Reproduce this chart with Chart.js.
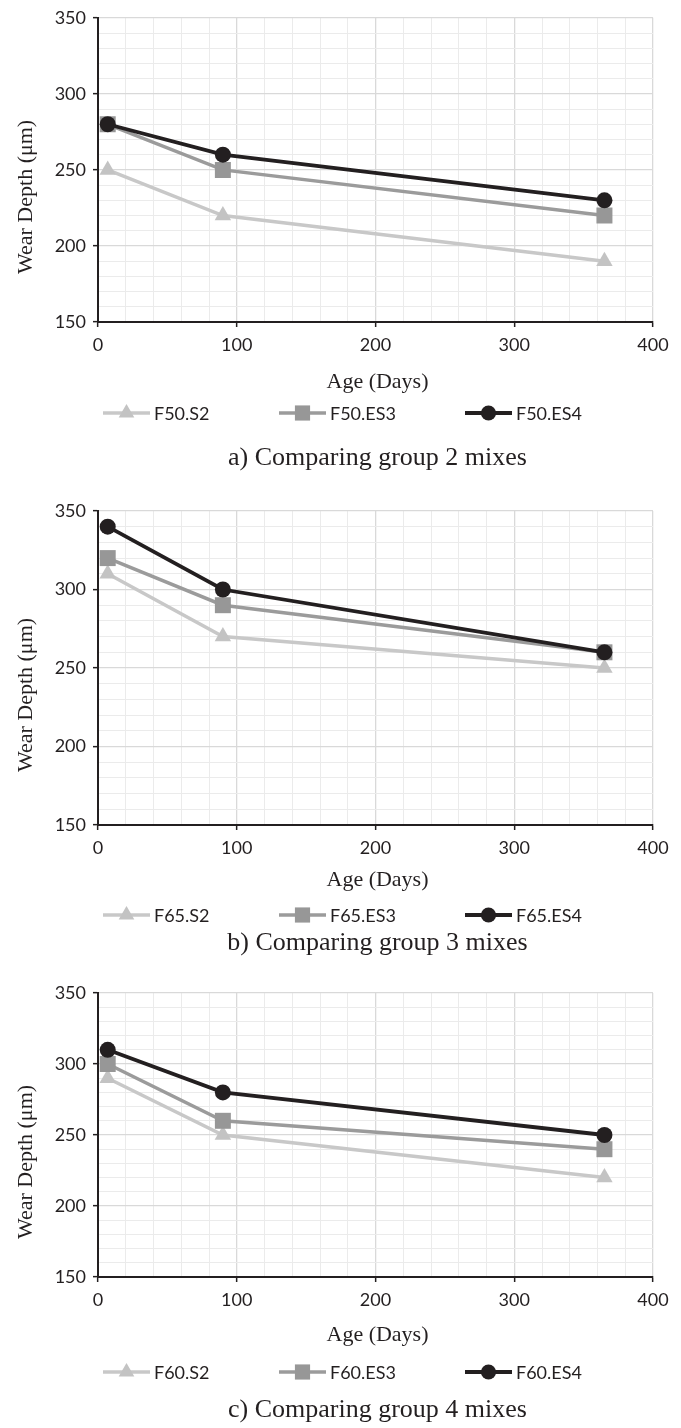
<!DOCTYPE html>
<html>
<head>
<meta charset="utf-8">
<script src="https://cdn.jsdelivr.net/npm/chart.js@4.4.1/dist/chart.umd.min.js"></script>
<style>
  html, body { margin: 0; padding: 0; background: #ffffff; }
  #figure { position: relative; width: 681px; height: 1428px; }
  #figure canvas { position: absolute; left: 0; }
</style>
</head>
<body>
<div id="figure">
  <canvas id="panelA" width="681" height="480" style="top:0px"></canvas>
  <canvas id="panelB" width="681" height="480" style="top:480px"></canvas>
  <canvas id="panelC" width="681" height="468" style="top:960px"></canvas>
</div>
<script>
// Test ages (days)
const ageDays = [7, 90, 365];

// Axis tick labels
const xTickLabels = [0, 100, 200, 300, 400];
const yTickLabels = [150, 200, 250, 300, 350];

// Group 2 mixes
const group2Names = ['F50.S2', 'F50.ES3', 'F50.ES4'];
const group2S2  = [250, 220, 190];
const group2ES3 = [280, 250, 220];
const group2ES4 = [280, 260, 230];

// Group 3 mixes
const group3Names = ['F65.S2', 'F65.ES3', 'F65.ES4'];
const group3S2  = [310, 270, 250];
const group3ES3 = [320, 290, 260];
const group3ES4 = [340, 300, 260];

// Group 4 mixes
const group4Names = ['F60.S2', 'F60.ES3', 'F60.ES4'];
const group4S2  = [290, 250, 220];
const group4ES3 = [300, 260, 240];
const group4ES4 = [310, 280, 250];

const captions = [
  'a) Comparing group 2 mixes',
  'b) Comparing group 3 mixes',
  'c) Comparing group 4 mixes'
];

const INK = '#231f20';
const SERIES_STYLE = [
  { line: '#c8c8c8', mark: '#c3c3c3', shape: 'triangle', radius: 9.5, width: 3.5 },
  { line: '#9b9b9b', mark: '#979797', shape: 'rect', radius: 11.3, width: 3.5 },
  { line: '#231f20', mark: '#231f20', shape: 'circle', radius: 8, width: 3.8 }
];
const SANS = 'Lato, "Open Sans", sans-serif';
const SERIF = '"Liberation Serif", "Times New Roman", serif';

const PLOT_LEFT = 98;
const PLOT_RIGHT = 653;

function drawMarker(ctx, shape, r, x, y, color) {
  ctx.fillStyle = color;
  ctx.beginPath();
  if (shape === 'circle') {
    ctx.arc(x, y, r, 0, Math.PI * 2);
  } else if (shape === 'rect') {
    const s = r * Math.SQRT1_2;
    ctx.rect(x - s, y - s, 2 * s, 2 * s);
  } else {
    const a = -Math.PI / 2;
    for (let i = 0; i < 3; i++) {
      const t = a + i * 2 * Math.PI / 3;
      const px = x + Math.cos(t) * r, py = y + Math.sin(t) * r;
      if (i === 0) ctx.moveTo(px, py); else ctx.lineTo(px, py);
    }
    ctx.closePath();
  }
  ctx.fill();
}

// Axis titles, legend row and caption under each panel
const panelDecor = {
  id: 'panelDecor',
  afterDraw(chart, args, opts) {
    const ctx = chart.ctx;
    const area = chart.chartArea;
    const midX = (area.left + area.right) / 2 + 2;
    ctx.save();
    ctx.fillStyle = INK;

    // x-axis title
    ctx.font = '22px ' + SERIF;
    ctx.textAlign = 'center';
    ctx.textBaseline = 'middle';
    ctx.fillText('Age (Days)', midX, area.bottom + opts.xTitleOffset);

    // y-axis title
    ctx.save();
    ctx.translate(26, (area.top + area.bottom) / 2 + 27);
    ctx.rotate(-Math.PI / 2);
    ctx.fillText('Wear Depth (\u03bcm)', 0, 0);
    ctx.restore();

    // legend
    const ly = area.bottom + opts.legendOffset;
    const slots = [103, 279, 465];
    chart.data.datasets.slice().sort((a, b) => a.seriesIndex - b.seriesIndex).forEach((ds, i) => {
      const st = SERIES_STYLE[ds.seriesIndex];
      const x0 = slots[i], x1 = x0 + 47;
      ctx.strokeStyle = st.line;
      ctx.lineWidth = st.width;
      ctx.beginPath();
      ctx.moveTo(x0, ly);
      ctx.lineTo(x1, ly);
      ctx.stroke();
      drawMarker(ctx, st.shape, st.radius * 0.95, (x0 + x1) / 2, ly, st.mark);
      ctx.fillStyle = INK;
      ctx.font = '18px ' + SANS;
      ctx.textAlign = 'left';
      ctx.textBaseline = 'middle';
      ctx.fillText(ds.label, x1 + 4, ly + 1);
    });

    // caption
    ctx.font = '26px ' + SERIF;
    ctx.textAlign = 'center';
    ctx.textBaseline = 'middle';
    ctx.fillStyle = INK;
    ctx.fillText(opts.caption, midX, area.bottom + opts.captionOffset);
    ctx.restore();
  }
};

function makePanel(canvasId, names, seriesList, caption, frame) {
  const datasets = seriesList.map((values, i) => {
    const st = SERIES_STYLE[i];
    return {
      label: names[i],
      seriesIndex: i,
      order: 3 - i,
      data: ageDays.map((d, k) => ({ x: d, y: values[k] })),
      borderColor: st.line,
      borderWidth: st.width,
      backgroundColor: st.mark,
      pointStyle: st.shape,
      pointRadius: st.radius,
      pointHoverRadius: st.radius,
      pointBackgroundColor: st.mark,
      pointBorderColor: st.mark,
      pointBorderWidth: 0,
      tension: 0,
      fill: false
    };
  });

  const canvas = document.getElementById(canvasId);
  const H = canvas.height;
  const isMajorX = (c) => c.tick && c.tick.value % 100 === 0;
  const isMajorY = (c) => c.tick && c.tick.value % 50 === 0;

  return new Chart(canvas, {
    type: 'line',
    data: { datasets },
    options: {
      responsive: false,
      animation: false,
      devicePixelRatio: 1,
      layout: { padding: { top: frame.top, right: 681 - PLOT_RIGHT, left: 0, bottom: 0 } },
      plugins: {
        legend: { display: false },
        tooltip: { enabled: false },
        panelDecor: {
          caption,
          xTitleOffset: frame.xTitle,
          legendOffset: frame.legend,
          captionOffset: frame.caption
        }
      },
      scales: {
        x: {
          type: 'linear',
          min: xTickLabels[0],
          max: xTickLabels[xTickLabels.length - 1],
          afterFit(scale) { scale.height = H - frame.bottom; },
          ticks: {
            stepSize: 20,
            autoSkip: false,
            maxRotation: 0,
            padding: 7,
            color: INK,
            font: { family: SANS, size: 18 },
            callback: (v) => xTickLabels.includes(v) ? String(v) : ''
          },
          grid: {
            color: (c) => isMajorX(c) ? '#d9d9d9' : '#ebebeb',
            lineWidth: (c) => isMajorX(c) ? 1.3 : 1,
            tickColor: (c) => isMajorX(c) ? INK : 'rgba(0,0,0,0)',
            tickLength: 5,
            tickWidth: 1.5
          },
          border: { color: INK, width: 2 }
        },
        y: {
          type: 'linear',
          min: yTickLabels[0],
          max: yTickLabels[yTickLabels.length - 1],
          afterFit(scale) { scale.width = PLOT_LEFT; },
          ticks: {
            stepSize: 10,
            autoSkip: false,
            padding: 7,
            color: INK,
            font: { family: SANS, size: 18 },
            callback: (v) => yTickLabels.includes(v) ? String(v) : ''
          },
          grid: {
            color: (c) => isMajorY(c) ? '#d9d9d9' : '#ebebeb',
            lineWidth: (c) => isMajorY(c) ? 1.3 : 1,
            tickColor: (c) => isMajorY(c) ? INK : 'rgba(0,0,0,0)',
            tickLength: 5,
            tickWidth: 1.5
          },
          border: { color: INK, width: 2 }
        }
      }
    },
    plugins: [panelDecor]
  });
}

makePanel('panelA', group2Names, [group2S2, group2ES3, group2ES4], captions[0],
  { top: 16, bottom: 322, xTitle: 60, legend: 91, caption: 136 });
makePanel('panelB', group3Names, [group3S2, group3ES3, group3ES4], captions[1],
  { top: 31, bottom: 345, xTitle: 55, legend: 90, caption: 118 });
makePanel('panelC', group4Names, [group4S2, group4ES3, group4ES4], captions[2],
  { top: 33, bottom: 317, xTitle: 58, legend: 95, caption: 133 });
</script>
</body>
</html>
